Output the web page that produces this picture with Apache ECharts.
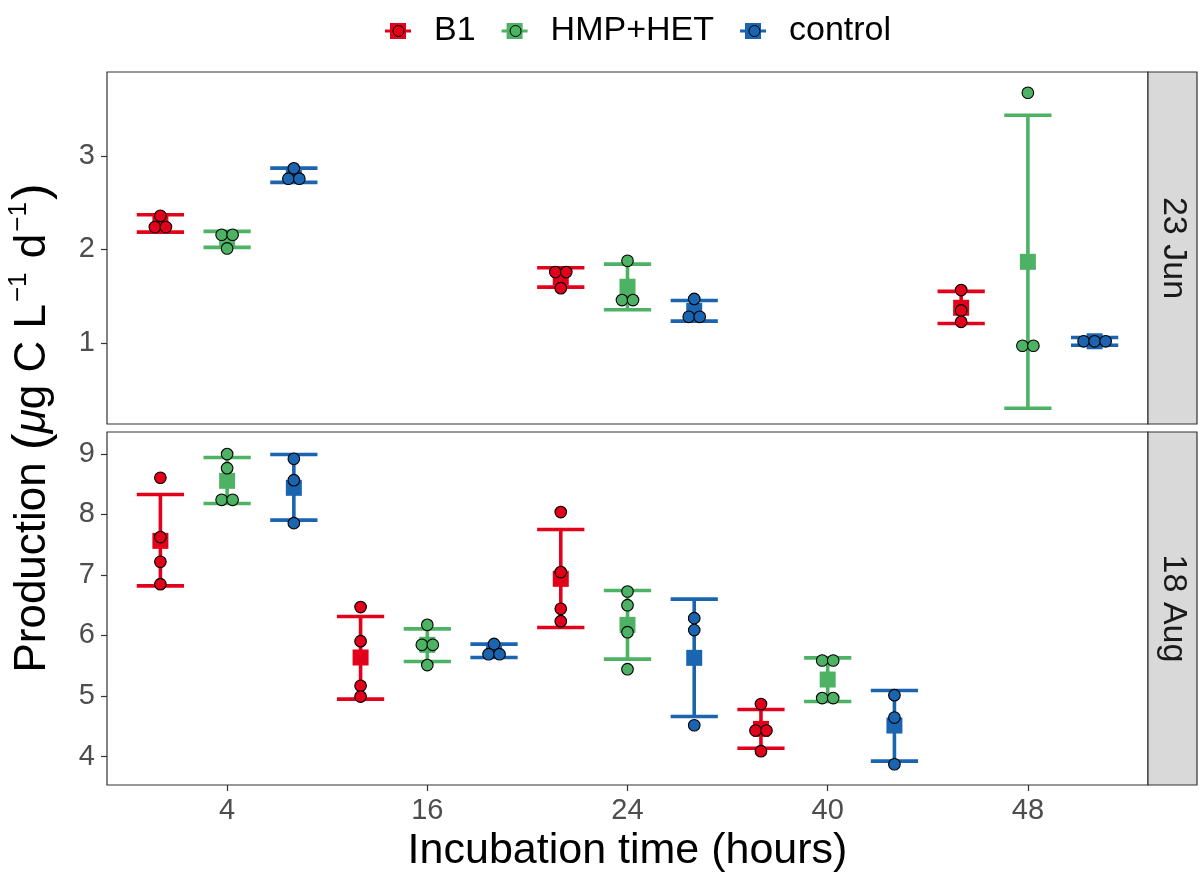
<!DOCTYPE html>
<html><head><meta charset="utf-8">
<script src="https://cdn.jsdelivr.net/npm/echarts@6/dist/echarts.min.js"></script>
<style>html,body{margin:0;padding:0;background:#fff}#chart{width:1200px;height:884px}</style>
</head><body><div id="chart"></div>
<script>
// ---------- data ----------
const timeLabels = ['4', '16', '24', '40', '48'];
const treatments = ['B1', 'HMP+HET', 'control'];
const panelNames = ['23 Jun', '18 Aug'];
const yTicksJun = [1, 2, 3];
const yTicksAug = [4, 5, 6, 7, 8, 9];

// 23 Jun replicates / mean / error bar limits (index = incubation time)
const junB1Pts   = [[2.36, 2.24, 2.24], null, [1.757, 1.757, 1.585], null, [1.564, 1.346, 1.224]];
const junB1Mean  = [2.28, null, 1.70, null, 1.375];
const junB1Lo    = [2.185, null, 1.596, null, 1.207];
const junB1Hi    = [2.371, null, 1.803, null, 1.55];

const junHmpPts  = [[2.157, 2.157, 2.01], null, [1.878, 1.457, 1.457], null, [3.678, 0.968, 0.968]];
const junHmpMean = [2.108, null, 1.60, null, 1.867];
const junHmpLo   = [2.022, null, 1.353, null, 0.299];
const junHmpHi   = [2.193, null, 1.842, null, 3.436];

const junCtlPts  = [[2.868, 2.757, 2.757], null, [1.47, 1.278, 1.278], null, [1.016, 1.016, 1.016]];
const junCtlMean = [2.79, null, 1.342, null, 1.016];
const junCtlLo   = [2.718, null, 1.232, null, 0.974];
const junCtlHi   = [2.871, null, 1.453, null, 1.057];

// 18 Aug
const augB1Pts   = [[8.604, 7.624, 7.216, 6.847], [6.468, 5.906, 5.168, 4.991], [8.037, 7.046, 6.44, 6.236], [4.866, 4.43, 4.43, 4.089], null];
const augB1Mean  = [7.562, 5.636, 6.935, 4.457, null];
const augB1Lo    = [6.819, 4.948, 6.131, 4.138, null];
const augB1Hi    = [8.328, 6.313, 7.749, 4.776, null];

const augHmpPts  = [[8.995, 8.763, 8.24, 8.24], [6.175, 5.845, 5.845, 5.51], [6.726, 6.5, 6.054, 5.443], [5.586, 5.586, 4.965, 4.965], null];
const augHmpMean = [8.554, 5.845, 6.175, 5.272, null];
const augHmpLo   = [8.179, 5.57, 5.609, 4.909, null];
const augHmpHi   = [8.939, 6.109, 6.742, 5.63, null];

const augCtlPts  = [[8.917, 8.565, 7.855], [5.86, 5.69, 5.69], [6.286, 6.088, 4.517], [5.014, 4.644, 3.873], null];
const augCtlMean = [8.438, 5.747, 5.63, 4.512, null];
const augCtlLo   = [7.904, 5.635, 4.661, 3.924, null];
const augCtlHi   = [8.988, 5.856, 6.6, 5.09, null];

// ---------- styling ----------
const colors = ['#E2001A', '#4DB264', '#1B65B0'];
const FONT = "'Liberation Sans', Arial, Helvetica, sans-serif";
const GRID_L = 107, GRID_W = 1041;
const grids = [{top: 72, height: 352}, {top: 432, height: 353}];
const yRanges = [[0.13, 3.9], [3.53, 9.36]];
const DOT_STEP = 11, DOT_R = 5.8, CAP_W = 0.236, DODGE = 1 / 3;
const TICK_FS = 29;

const panels = [
  [
    {pts: junB1Pts, mean: junB1Mean, lo: junB1Lo, hi: junB1Hi},
    {pts: junHmpPts, mean: junHmpMean, lo: junHmpLo, hi: junHmpHi},
    {pts: junCtlPts, mean: junCtlMean, lo: junCtlLo, hi: junCtlHi}
  ],
  [
    {pts: augB1Pts, mean: augB1Mean, lo: augB1Lo, hi: augB1Hi},
    {pts: augHmpPts, mean: augHmpMean, lo: augHmpLo, hi: augHmpHi},
    {pts: augCtlPts, mean: augCtlMean, lo: augCtlLo, hi: augCtlHi}
  ]
];

const series = [];
panels.forEach((trts, p) => {
  trts.forEach((d, t) => {
    const color = colors[t];
    const off = (t - 1) * DODGE;
    const errData = [], meanData = [], ptData = [];
    d.mean.forEach((m, i) => {
      if (m == null) return;
      const x = i + 1 + off;
      errData.push([x, d.lo[i], d.hi[i]]);
      meanData.push([x, m]);
      const vals = d.pts[i];
      const counts = {}, seen = {};
      vals.forEach(v => { counts[v] = (counts[v] || 0) + 1; });
      vals.forEach(v => {
        const k = seen[v] || 0; seen[v] = k + 1;
        ptData.push([x, v, k, counts[v]]);
      });
    });
    series.push({
      type: 'custom', name: treatments[t], xAxisIndex: p, yAxisIndex: p, z: 2, silent: true,
      encode: {x: 0, y: [1, 2]},
      data: errData,
      renderItem: (params, api) => {
        const x = api.value(0);
        const a = api.coord([x, api.value(1)]);
        const b = api.coord([x, api.value(2)]);
        const half = api.size([CAP_W, 0])[0] / 2;
        const st = {stroke: color, lineWidth: 3.6, fill: null};
        return {type: 'group', children: [
          {type: 'line', shape: {x1: a[0], y1: a[1], x2: b[0], y2: b[1]}, style: st},
          {type: 'line', shape: {x1: a[0] - half, y1: a[1], x2: a[0] + half, y2: a[1]}, style: st},
          {type: 'line', shape: {x1: b[0] - half, y1: b[1], x2: b[0] + half, y2: b[1]}, style: st}
        ]};
      }
    });
    series.push({
      type: 'scatter', name: treatments[t], xAxisIndex: p, yAxisIndex: p, z: 3, silent: true,
      symbol: 'rect', symbolSize: 16, data: meanData,
      itemStyle: {color: color, opacity: 1}, emphasis: {disabled: true}
    });
    series.push({
      type: 'custom', name: treatments[t], xAxisIndex: p, yAxisIndex: p, z: 4, silent: true,
      encode: {x: 0, y: 1},
      data: ptData,
      renderItem: (params, api) => {
        const c = api.coord([api.value(0), api.value(1)]);
        const k = api.value(2), n = api.value(3);
        const dx = (k - (n - 1) / 2) * DOT_STEP;
        return {type: 'circle', shape: {cx: c[0] + dx, cy: c[1], r: DOT_R},
          style: {fill: color, stroke: '#000', lineWidth: 1.1}};
      }
    });
  });
});

const tickVals = timeLabels.map((_, i) => i + 1);
const xAxes = [0, 1].map(p => ({
  type: 'value', gridIndex: p, min: 0.4, max: 5.6,
  splitLine: {show: false}, axisLine: {show: false},
  axisTick: p === 1 ? {show: true, customValues: tickVals, length: 6, lineStyle: {color: '#333', width: 1.2}} : {show: false},
  axisLabel: p === 1 ? {show: true, customValues: tickVals, formatter: v => timeLabels[Math.round(v) - 1],
    fontSize: TICK_FS, color: '#4D4D4D', fontFamily: FONT, margin: 11} : {show: false}
}));
const yAxes = [0, 1].map(p => {
  const ticks = p === 0 ? yTicksJun : yTicksAug;
  return {
    type: 'value', gridIndex: p, min: yRanges[p][0], max: yRanges[p][1],
    splitLine: {show: false}, axisLine: {show: false},
    axisTick: {show: true, customValues: ticks, length: 6, lineStyle: {color: '#333', width: 1.2}},
    axisLabel: {show: true, customValues: ticks, fontSize: TICK_FS, color: '#4D4D4D', fontFamily: FONT, margin: 12}
  };
});

const legendData = treatments.map((n, i) => ({name: n, itemStyle: {color: colors[i]}}));
const legendData2 = treatments.map((n, i) => ({name: n, itemStyle: {color: colors[i], borderColor: '#000', borderWidth: 1}}));
const LEG_LEFT = 380, LEG_TOP = 9;
const legendBase = {orient: 'horizontal', top: LEG_TOP, itemGap: 26, selectedMode: false, padding: 5};

const graphics = [];
grids.forEach((g, p) => {
  graphics.push({type: 'rect', silent: true, shape: {x: GRID_L + GRID_W, y: g.top, width: 49, height: g.height},
    style: {fill: '#D9D9D9', stroke: '#333', lineWidth: 1.2}});
  graphics.push({type: 'text', silent: true, x: GRID_L + GRID_W + 25, y: g.top + g.height / 2, rotation: -Math.PI / 2,
    style: {text: panelNames[p], fontSize: 34, fontFamily: FONT, fill: '#1A1A1A',
      align: 'center', verticalAlign: 'middle', textAlign: 'center', textVerticalAlign: 'middle'}});
});
graphics.push({type: 'text', silent: true, x: GRID_L + GRID_W / 2, y: 851,
  style: {text: 'Incubation time (hours)', fontSize: 43, fontFamily: FONT, fill: '#000',
    align: 'center', verticalAlign: 'middle', textAlign: 'center', textVerticalAlign: 'middle'}});
graphics.push({type: 'text', silent: true, x: 33, y: 428, rotation: Math.PI / 2,
  style: {
    text: '{a|Production }{p|(}{i|μ}{a|g C L}{s|−1}{a| d}{s|−1}{p|)}',
    fontFamily: FONT, fill: '#000', align: 'center', verticalAlign: 'middle', textAlign: 'center', textVerticalAlign: 'middle',
    rich: {
      a: {fontSize: 44, fontFamily: FONT, fill: '#000', lineHeight: 54},
      i: {fontSize: 44, fontFamily: FONT, fontStyle: 'italic', fill: '#000', lineHeight: 54},
      p: {fontSize: 50, fontFamily: FONT, fill: '#000', lineHeight: 54},
      s: {fontSize: 26, fontFamily: FONT, fill: '#000', verticalAlign: 'top', lineHeight: 54, padding: [0, 2, 0, 2]}
    }
  }});

const chart = echarts.init(document.getElementById('chart'), null, {renderer: 'canvas'});
chart.setOption({
  animation: false,
  backgroundColor: '#fff',
  grid: grids.map(g => ({left: GRID_L, width: GRID_W, top: g.top, height: g.height, show: true,
    borderColor: '#333', borderWidth: 1.2, backgroundColor: '#fff', containLabel: false})),
  xAxis: xAxes,
  yAxis: yAxes,
  legend: [
    Object.assign({}, legendBase, {left: LEG_LEFT, itemWidth: 26, itemHeight: 16, data: legendData,
      icon: 'path://M0,6.5H5V0H21V6.5H26V9.5H21V16H5V9.5H0Z',
      textStyle: {fontSize: 34, color: '#000', fontFamily: FONT, padding: [0, 0, 0, 18]}}),
    // overlay legend drawing the outlined circle at the centre of each key (same item widths)
    Object.assign({}, legendBase, {left: LEG_LEFT + 7.5, itemWidth: 11, itemHeight: 11, data: legendData2, icon: 'circle',
      textStyle: {fontSize: 34, color: 'rgba(0,0,0,0)', fontFamily: FONT, padding: [0, 0, 0, 33]}})
  ],
  graphic: graphics,
  series: series
});
</script></body></html>
